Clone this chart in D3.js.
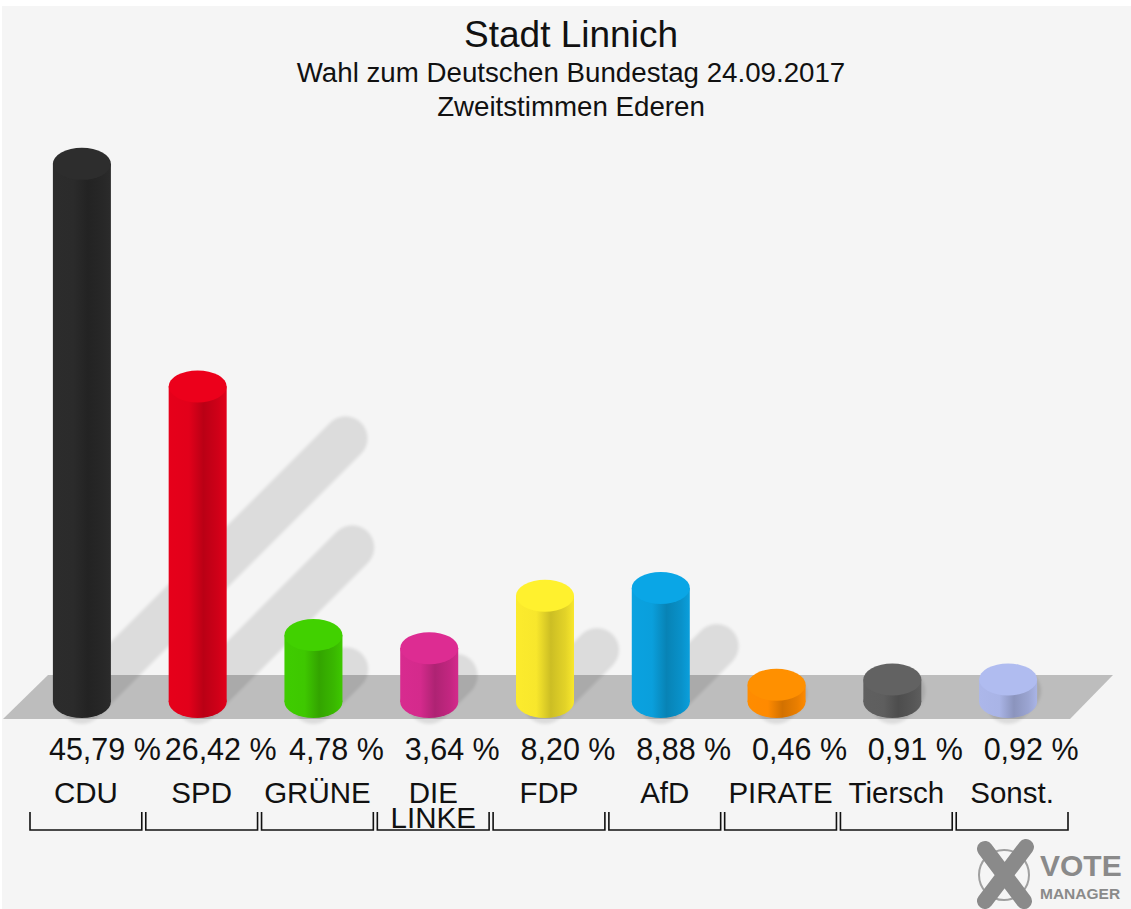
<!DOCTYPE html>
<html lang="de">
<head>
<meta charset="UTF-8">
<title>Stadt Linnich</title>
<style>
  body { margin: 0; background: #fff; }
  text { font-family: "Liberation Sans", Arial, sans-serif; fill: #111; }
  .title { text-anchor: middle; }
  .value { text-anchor: middle; font-size: 30.5px; }
  .name { text-anchor: middle; font-size: 29.5px; }
  .bracket { fill: none; stroke: #111; stroke-width: 1.6px; }
  .logo text { fill: #8a8a8a; font-weight: bold; }
</style>
</head>
<body>
<script src="https://cdnjs.cloudflare.com/ajax/libs/d3/7.8.5/d3.min.js"></script>
<script>

var parties = ["CDU", "SPD", "GRÜNE", "DIE LINKE", "FDP", "AfD", "PIRATE", "Tiersch", "Sonst."];
var values = [45.79, 26.42, 4.78, 3.64, 8.20, 8.88, 0.46, 0.91, 0.92];
var colors = ["#2b2b2b", "#e2001a", "#3ec800", "#d42a8c", "#f8e72c", "#0a9fdc", "#ff8a00", "#5e5e5e", "#a9b4e6"];
var titles = ["Stadt Linnich", "Wahl zum Deutschen Bundestag 24.09.2017", "Zweitstimmen Ederen"];

var width = 1131,
    height = 909,
    base = 702;

var svg = d3.select("body").append("svg")
  .attr("width", width)
  .attr("height", height);

var defs = svg.append("defs");

defs.append("filter")
    .attr("id", "soft")
    .attr("x", "-20%").attr("y", "-20%")
    .attr("width", "140%").attr("height", "140%")
  .append("feGaussianBlur")
    .attr("stdDeviation", 1.8);

svg.append("rect")
  .attr("x", 2)
  .attr("y", 6)
  .attr("width", width - 2)
  .attr("height", height - 6)
  .attr("fill", "#f5f5f5");

// titles
svg.selectAll(".title")
  .data(titles)
  .enter()
  .append("text")
    .attr("class", "title")
    .attr("x", 571)
    .attr("y", function(d, i){ return [47, 82, 116][i]; })
    .attr("font-size", function(d, i){ return i ? "27.7px" : "37px"; })
    .text(function(d){ return d; });

var x = d3.scaleBand()
  .domain(parties)
  .range([28, 1070]);

var y = d3.scaleLinear()
  .domain([0, 50])
  .range([690, 115.5]);

var bw = x.bandwidth(),
    rx = 29,
    ry = 16;

function cx(d) {
  return x(d) + bw / 2 - 4;
}

// floor
svg.append("path")
  .attr("d", "M3,719L48,675L1113,675L1070,719Z")
  .attr("fill", "#bdbdbd");

var rows = parties.map(function(p, i){
  return { party: p, value: values[i], color: colors[i] };
});

// shadows
svg.append("g")
    .attr("filter", "url(#soft)")
  .selectAll("path")
  .data(rows)
  .enter()
  .append("path")
    .attr("d", function(d){
      var k = (base - y(d.value)) * 0.49;
      return "M" + cx(d.party) + "," + base + "L" + (cx(d.party) + k) + "," + (base - k);
    })
    .attr("stroke", "#000")
    .attr("stroke-opacity", 0.1)
    .attr("stroke-width", 44)
    .attr("stroke-linecap", "round");

// gradients
rows.forEach(function(d, i){
  var c = d3.color(d.color);
  var g = defs.append("linearGradient")
    .attr("id", "grad" + i)
    .attr("x1", 0).attr("x2", 1)
    .attr("y1", 0).attr("y2", 0);
  [[0, c.brighter(0.05)], [0.35, c], [0.6, c.darker(0.55)], [0.85, c.darker(0.25)], [1, c]].forEach(function(s){
    g.append("stop")
      .attr("offset", s[0])
      .attr("stop-color", s[1]);
  });
});

// bars
var bars = svg.append("g")
  .selectAll("g")
  .data(rows)
  .enter()
  .append("g");

bars.append("rect")
  .attr("x", function(d){ return cx(d.party) - rx; })
  .attr("y", function(d){ return y(d.value); })
  .attr("width", rx * 2)
  .attr("height", function(d){ return base - y(d.value); })
  .attr("fill", function(d, i){ return "url(#grad" + i + ")"; });

bars.append("ellipse")
  .attr("cx", function(d){ return cx(d.party); })
  .attr("cy", base)
  .attr("rx", rx)
  .attr("ry", ry)
  .attr("fill", function(d, i){ return "url(#grad" + i + ")"; });

bars.append("ellipse")
  .attr("cx", function(d){ return cx(d.party); })
  .attr("cy", function(d){ return y(d.value); })
  .attr("rx", rx)
  .attr("ry", ry)
  .attr("fill", function(d){ return d3.color(d.color).brighter(0.12); });

// labels
var fmt = d3.format(".2f");

svg.selectAll(".value")
  .data(rows)
  .enter()
  .append("text")
    .attr("class", "value")
    .attr("x", function(d){ return x(d.party) + bw / 2 + 19; })
    .attr("y", 760)
    .text(function(d){ return fmt(d.value).replace(".", ",") + " %"; });

var names = svg.selectAll(".name")
  .data(rows)
  .enter()
  .append("text")
    .attr("class", "name")
    .attr("x", function(d){ return x(d.party) + bw / 2; })
    .attr("y", 803);

names.selectAll("tspan")
  .data(function(d){ return d.party.split(" "); })
  .enter()
  .append("tspan")
    .attr("x", function(){ return d3.select(this.parentNode).attr("x"); })
    .attr("dy", function(d, i){ return i ? 25 : 0; })
    .text(function(d){ return d; });

svg.selectAll(".bracket")
  .data(parties)
  .enter()
  .append("path")
    .attr("class", "bracket")
    .attr("d", function(d){
      var x0 = x(d) + 2, x1 = x(d) + bw - 2;
      return "M" + x0 + ",812V830H" + x1 + "V812";
    });

// logo
var logo = svg.append("g").attr("class", "logo");

logo.append("circle")
  .attr("cx", 1004)
  .attr("cy", 875)
  .attr("r", 25)
  .attr("fill", "none")
  .attr("stroke", "#a0a0a0")
  .attr("stroke-width", 2);

logo.append("path")
  .attr("d", "M985,849L1024,901M1026,847L985,901")
  .attr("stroke", "#8a8a8a")
  .attr("stroke-width", 16)
  .attr("stroke-linecap", "round");

logo.append("text")
  .attr("x", 1040)
  .attr("y", 876)
  .attr("font-size", "30px")
  .text("VOTE");

logo.append("text")
  .attr("x", 1040)
  .attr("y", 899)
  .attr("font-size", "15.5px")
  .text("MANAGER");

</script>
</body>
</html>
